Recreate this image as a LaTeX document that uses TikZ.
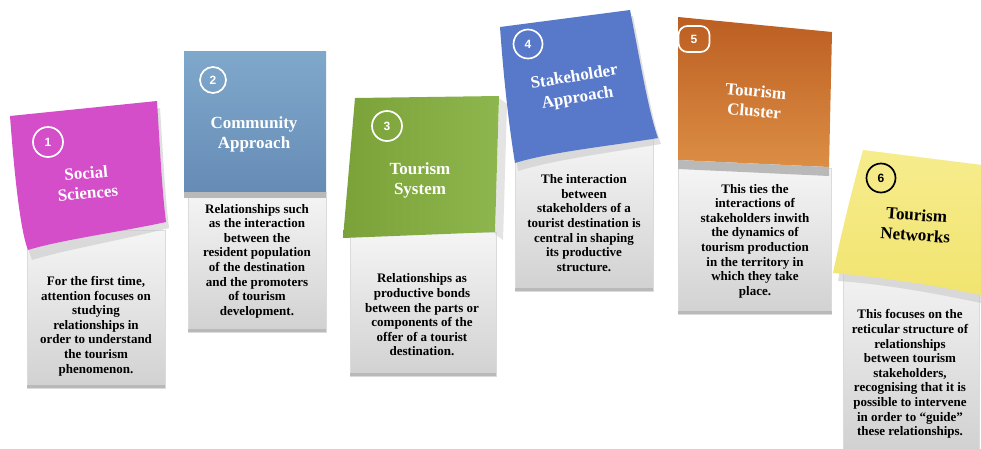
\documentclass[tikz,border=0pt]{standalone}
\usepackage{fontspec}
\setmainfont{Liberation Serif}
\newfontfamily\numfont{Liberation Sans}
\definecolor{pinkc}{RGB}{213,78,201}
\definecolor{steelT}{RGB}{128,168,203}
\definecolor{steelB}{RGB}{102,140,182}
\definecolor{greenD}{RGB}{122,162,56}
\definecolor{greenL}{RGB}{142,182,78}
\definecolor{royal}{RGB}{88,120,201}
\definecolor{orangeT}{RGB}{188,94,34}
\definecolor{orangeB}{RGB}{220,142,68}
\definecolor{yellowc}{RGB}{241,228,112}
\definecolor{yellowT}{RGB}{246,236,140}
\begin{document}
\begin{tikzpicture}[x=1pt,y=-1pt,
  bodybox/.style={inner sep=0pt, top color=gray!8, bottom color=gray!36, draw=gray!28, line width=0.6pt},
  bodytext/.style={align=center, text=black, font=\fontsize{13}{14.6}\selectfont\bfseries, inner sep=0pt},
  headtext/.style={align=center, text=white, font=\fontsize{17}{20}\selectfont\bfseries, inner sep=0pt},
  numc/.style={circle, draw=white, line width=1.7pt, text=white, inner sep=0pt, font=\numfont\fontsize{12}{12}\selectfont\bfseries},
  stickshadow/.style={fill=gray!45, opacity=0.55},
  band/.style={fill=gray!55}]
\useasboundingbox (0,0) rectangle (981,448);
\fill[white] (0,0) rectangle (981,448);

% ---------- bodies ----------
\node[bodybox, minimum width=138, minimum height=158] (b1) at (96,309) {};
\node[bodybox, minimum width=138, minimum height=140] (b2) at (257,262) {};
\node[bodybox, minimum width=146, minimum height=144] (b3) at (423,304) {};
\node[bodybox, minimum width=138, minimum height=152] (b4) at (584,215) {};
\node[bodybox, minimum width=153, minimum height=146] (b5) at (755,241) {};
\node[bodybox, minimum width=136, minimum height=190] (b6) at (911,355) {};
\fill[gray!55] (b1.south west) rectangle ([yshift=3]b1.south east);
\fill[gray!55] (b2.south west) rectangle ([yshift=3]b2.south east);
\fill[gray!55] (b3.south west) rectangle ([yshift=3]b3.south east);
\fill[gray!55] (b4.south west) rectangle ([yshift=3]b4.south east);
\fill[gray!55] (b5.south west) rectangle ([yshift=3]b5.south east);

% ---------- card 1 : pink sticky ----------
\fill[stickshadow] (14,122) -- (160,108) .. controls (163,155) and (165,195) .. (169,228)
  .. controls (122,240) and (64,250) .. (32,260) .. controls (22,236) and (17,176) .. cycle;
\fill[pinkc] (10,116) -- (157,101) .. controls (160,150) and (162,190) .. (166,222)
  .. controls (120,232) and (60,240) .. (28,250) .. controls (20,230) and (14,170) .. cycle;

% ---------- card 2 : steel blue ----------
\shade[top color=steelT, bottom color=steelB] (184,51) rectangle (326,192);
\fill[band] (184,192) rectangle (326,198);

% ---------- card 3 : green ----------
\fill[gray!35, opacity=0.6] (499,98) -- (507,104) -- (503,240) -- (495,234) -- cycle;
\shade[left color=greenD, right color=greenL] (355,98) -- (499,96) -- (495,232) -- (343,238) -- cycle;

% ---------- card 4 : royal blue sticky ----------
\fill[stickshadow] (504,33) -- (633,16) .. controls (643,66) and (651,116) .. (661,144)
  .. controls (613,152) and (553,160) .. (518,171) .. controls (511,126) and (507,76) .. cycle;
\fill[royal] (500,27) -- (630,10) .. controls (640,60) and (648,110) .. (658,138)
  .. controls (610,146) and (550,152) .. (515,163) .. controls (508,120) and (503,70) .. cycle;

% ---------- card 5 : orange ----------
\shade[top color=orangeT, bottom color=orangeB] (678,17) -- (832,32) -- (829,167) -- (678,160) -- cycle;
\fill[band] (678,160) -- (829,167) -- (829,176) -- (678,169) -- cycle;

% ---------- card 6 : yellow sticky ----------
\fill[stickshadow] (866,157) -- (990,173) -- (990,305)
  .. controls (940,294) and (884,284) .. (838,281) .. controls (846,236) and (856,196) .. cycle;
\shade[top color=yellowT, bottom color=yellowc] (863,150) -- (990,166) -- (990,297)
  .. controls (940,286) and (880,277) .. (833,273) .. controls (842,230) and (852,190) .. cycle;

% ---------- numbers ----------
\node[numc, minimum size=30] (n1) at (48,142) {1};
\node[numc, minimum size=26] (n2) at (213,80) {2};
\node[numc, minimum size=30] (n3) at (387,126) {3};
\node[numc, minimum size=29] (n4) at (528,44) {4};
\node[numc, rectangle, rounded corners=9pt, minimum width=31, minimum height=26] (n5) at (694,39) {5};
\node[numc, minimum size=29, draw=black, text=black] (n6) at (881,178) {6};

% ---------- headers ----------
\node[headtext, rotate=5] (h1) at (87,183) {Social\\Sciences};
\node[headtext] (h2) at (254,134) {Community\\Approach};
\node[headtext] (h3) at (420,180) {Tourism\\System};
\node[headtext, rotate=9, font=\fontsize{17}{21}\selectfont\bfseries] (h4) at (576,88) {Stakeholder\\Approach};
\node[headtext, rotate=-5] (h5) at (755,101) {Tourism\\Cluster};
\node[headtext, rotate=-4, text=black] (h6) at (916,225) {Tourism\\Networks};

% ---------- body texts ----------
\node[bodytext] (t1) at (96,326) {For the first time,\\attention focuses on\\studying\\relationships in\\order to understand\\the tourism\\phenomenon.};
\node[bodytext] (t2) at (257,261) {Relationships such\\as the interaction\\between the\\resident population\\of the destination\\and the promoters\\of tourism\\development.};
\node[bodytext] (t3) at (422,315) {Relationships as\\productive bonds\\between the parts or\\components of the\\offer of a tourist\\destination.};
\node[bodytext] (t4) at (584,223) {The interaction\\between\\stakeholders of a\\tourist destination is\\central in shaping\\its productive\\structure.};
\node[bodytext] (t5) at (755,241) {This ties the\\interactions of\\stakeholders inwith\\the dynamics of\\tourism production\\in the territory in\\which they take\\place.};
\node[bodytext] (t6) at (910,374) {This focuses on the\\reticular structure of\\relationships\\between tourism\\stakeholders,\\recognising that it is\\possible to intervene\\in order to “guide”\\these relationships.};
\end{tikzpicture}
\end{document}
